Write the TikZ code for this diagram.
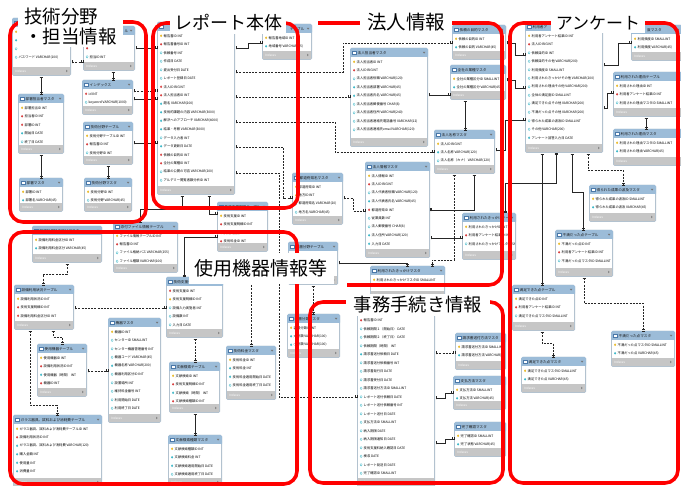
\documentclass[tikz,border=0pt]{standalone}
\usepackage{fontspec}
\newfontfamily\jp{Noto Sans CJK JP}
\usetikzlibrary{arrows.meta}
\definecolor{regred}{HTML}{FF0000}
\definecolor{tblhead}{HTML}{9CBCD8}
\definecolor{tblframe}{HTML}{B3C2CF}
\definecolor{tblfoot}{HTML}{C6C6C6}
\definecolor{tblicon}{HTML}{4A78A8}
\definecolor{keygold}{HTML}{E8B820}
\definecolor{fkred}{HTML}{D84040}
\definecolor{attcyan}{HTML}{3CB8C8}
\newcommand\rowfont{\jp\fontsize{3.3}{3.6}\selectfont}
\newcommand\hdrfont{\jp\fontsize{3.6}{4}\selectfont}
\newcommand\ftfont{\jp\fontsize{3}{3.4}\selectfont}
\tikzset{
 tblnode/.style={inner sep=0pt, outer sep=0pt, draw=none, anchor=north west},
 icK/.style={fill=keygold},
 icF/.style={fill=fkred},
 icA/.style={fill=white, draw=attcyan, line width=0.25pt},
 icC/.style={fill=attcyan},
 rowtxt/.style={anchor=west, inner sep=0pt, font=\rowfont, text=black},
 conn/.style={draw=black!85, line width=0.45pt, {Bar[width=3pt,sep=0.8pt]Bar[width=3pt]}-{Bar[width=3pt,sep=0.8pt]Bar[width=3pt]}},
 dconn/.style={conn, dash pattern=on 2pt off 1.2pt},
 regbox/.style={draw=regred, line width=3.6pt, rounded corners=13pt},
 lbl/.style={fill=white, inner sep=3pt, text=black},
}
\newcommand\ertbl[7]{%
\node[tblnode, minimum width={(#4-#2)*1pt}, minimum height={(#5-#3)*1pt}] (#1) at (#2,#3) {};
\fill[tblframe, rounded corners=1.5pt] (#2,#3) rectangle (#4,#5);
\fill[tblhead, rounded corners=1.5pt] (#2,#3) rectangle (#4,#3+10);
\fill[white] (#2+1.2,#3+9) rectangle (#4-1.2,#5-9);
\fill[tblfoot] (#2+1.2,#5-9) rectangle (#4-1.2,#5-1.2);
\filldraw[fill=white, draw=tblicon, line width=0.3pt] (#2+2,#3+2.8) rectangle (#2+6,#3+6.4);
\fill[black!55] (#4-5.2,#3+3.8) -- (#4-2.6,#3+3.8) -- (#4-3.9,#3+5.6) -- cycle;
\fill[black!45] (#4-5,#5-6.3) -- (#4-5,#5-3.7) -- (#4-3.2,#5-5) -- cycle;
\begin{scope}
\clip (#2,#3) rectangle (#4-6,#5);
\node[anchor=west, inner sep=0pt, font=\hdrfont, text=black!90] (#1-t) at (#2+7.5,#3+4.7) {#6};
\node[anchor=west, inner sep=0pt, font=\ftfont, text=white] (#1-x) at (#2+3,#5-5) {Indexes};
\end{scope}
\if\relax\detokenize{#7}\relax\else
\begin{scope}
\clip (#2,#3) rectangle (#4-1.2,#5);
\foreach \ty/\tx [count=\i] in {#7} {
 \pgfmathsetmacro\ry{#3+13.8+(\i-1)*8.5}
 \edef\icn{\noexpand\path[\ty]}
 \icn (#2+3,\ry) -- (#2+4.1,\ry-1.3) -- (#2+5.2,\ry) -- (#2+4.1,\ry+1.3) -- cycle;
 \node[rowtxt] (#1-r\i) at (#2+6.5,\ry) {\tx};
}
\end{scope}
\fi
}
\begin{document}
\begin{tikzpicture}[x=1pt,y=-1pt]
\fill[white] (0,0) rectangle (681,486);
\useasboundingbox (0,0) rectangle (681,486);

% ---------- 技術分野・担当情報
\ertbl{tanto}{12}{18}{71}{76}{}{icK/, icC/, icA/, icA/パスワード VARCHAR(100)}
\ertbl{tantot}{83}{26}{135}{71}{}{icK/, icF/, icA/担当ID INT}
\node[anchor=west, inner sep=0pt, font=\hdrfont, text=black!90] (tantot-t2) at (124.5,30.7) {ル};
\ertbl{idx}{82}{80}{133}{115}{インデックス}{icF/id INT, icA/keyword VARCHAR(1000)}
\ertbl{gtb}{83}{122}{133}{165}{技術分野テーブル}{icK/技術分野テーブルID INT, icF/報告書ID INT, icA/技術分野ID INT}
\ertbl{bsm}{18}{94}{64}{154}{部署担当者マスタ}{icK/部署担当ID INT, icF/担当者ID INT, icF/部署ID INT, icC/開始日 DATE, icA/終了日 DATE}
\ertbl{busho}{19}{178}{63}{212}{部署マスタ}{icK/部署ID INT, icC/部署名 VARCHAR(45)}
\ertbl{gmst}{84}{178}{132}{212}{技術分野マスタ}{icK/技術分野ID INT, icA/技術分野 VARCHAR(45)}

% ---------- レポート本体
\ertbl{rep}{157}{22}{235}{195}{}{icK/報告書ID INT, icF/報告書番号ID INT, icA/依頼番号 INT, icA/作成日 DATE, icA/提出受付日 DATE, icA/レポート登録日 DATE, icF/法人ID BIGINT, icF/法人担当者ID INT, icC/題名 VARCHAR(200), icC/技術的課題の内容 VARCHAR(3000), icC/解決へのアプローチ VARCHAR(4000), icC/結果・考察 VARCHAR(3000), icA/データ入力者 INT, icC/データ更新日 DATE, icF/依頼の目的ID INT, icF/全社の業種ID INT, icA/結果の公開の可否 VARCHAR(200), icA/アルデミー閲覧者数分析ID INT}
\ertbl{chiki}{262}{24}{312}{60}{}{icK/報告書地域ID INT, icC/地域番号 VARCHAR(45)}
\node[anchor=west, inner sep=0pt, font=\hdrfont, text=black!90] (chiki-t2) at (290,28.7) {テーブル};

% ---------- 法人情報
\ertbl{tantou}{350}{48}{428}{147}{法人担当者マスタ}{icK/法人担当者ID INT, icF/法人ID BIGINT, icA/法人担当者役職 VARCHAR(120), icC/法人担当者部署 VARCHAR(45), icC/法人担当者氏名 VARCHAR(45), icA/法人担当者郵便番号 CHAR(8), icA/法人担当者住所 VARCHAR(240), icA/法人担当者連絡先電話番号 VARCHAR(12), icA/法人担当者連絡先email VARCHAR(120)}
\ertbl{irai}{452}{25}{506}{60}{依頼の目的マスタ}{icK/依頼の目的ID INT, icC/依頼の目的 VARCHAR(45)}
\ertbl{gyoshu}{450}{65}{506}{100}{全社の業種マスタ}{icK/全社の業種区分ID SMALLINT, icC/全社の業種区分 VARCHAR(45)}
\ertbl{meisho}{434}{130}{495}{174}{法人名称マスタ}{icK/法人ID BIGINT, icC/法人名称 VARCHAR(120), icA/法人名称（カナ） VARCHAR(120)}
\ertbl{hjouhou}{365}{162}{430}{258}{法人情報マスタ}{icK/法人情報ID INT, icF/法人ID BIGINT, icA/法人代表者役職 VARCHAR(120), icC/法人代表者氏名 VARCHAR(45), icF/都道府県ID INT, icA/従業員数 INT, icA/法人郵便番号 CHAR(8), icC/法人住所 VARCHAR(120), icC/入力日 DATE}
\ertbl{ken}{292}{173}{343}{225}{都道府県名マスタ}{icK/都道府県ID INT, icK/地方ID INT, icC/都道府県名 VARCHAR(20), icA/地方名 VARCHAR(45)}
\ertbl{kikkaket}{462}{213}{516}{260}{利用されたきっかけテーブル}{icK/利用されたきっかけID INT, icF/利用者アンケート結果ID INT, icA/利用されたきっかけマスタID SMALLINT}
\ertbl{kikkakem}{370}{266}{445}{300}{利用されたきっかけマスタ}{icK/利用されたきっかけマスタID SMALLINT}
\ertbl{bunya}{288}{242}{338}{285}{装置分野テーブル}{}
\ertbl{bunrui}{287}{314}{340}{358}{装置分類マスタ}{icK/装置分類ID INT, icC/大分類 VARCHAR(100), icC/小分類 VARCHAR(100)}

% ---------- 使用機器情報等
\ertbl{ryokinkubun}{32}{226}{102}{263}{設備利用料金区分マスタ}{icK/設備利用料金区分ID INT, icC/設備利用料金区分 VARCHAR(45)}
\ertbl{file}{113}{222}{178}{273}{添付ファイル情報テーブル}{icK/ファイル情報テーブルID INT, icF/報告書ID INT, icA/ファイル格納パス VARCHAR(255), icA/ファイル種類 VARCHAR(100)}
\ertbl{gmeisai}{217}{202}{268}{252}{技術支援明細テーブル}{icK/技術支援ID INT, icF/技術支援明細ID INT, icA/技術支援数 INT, icF/技術料金ID INT}
\ertbl{shien}{166}{277}{223}{338}{技術支援テーブル}{icF/技術支援ID INT, icK/技術支援明細ID INT, icA/設備入力実施者 INT, icA/設備数 INT, icA/入力日 DATE}
\ertbl{setsubi}{14}{285}{74}{330}{設備利用状況テーブル}{icK/設備利用状況ID INT, icF/技術支援明細ID INT, icF/設備利用料金区分ID INT}
\ertbl{shiyou}{37}{344}{87}{397}{使用機器テーブル}{icK/使用機器ID INT, icF/設備利用状況ID INT, icC/使用機器（時間） INT, icF/機器ID INT}
\ertbl{kiki}{108}{318}{161}{423}{機器マスタ}{icK/機器ID INT, icA/センターID SMALLINT, icA/センター機器管理番号 INT, icA/機器コード VARCHAR(45), icC/機器名称 VARCHAR(200), icA/機器利用区分ID INT, icA/設置場所 INT, icA/維持料金番号 INT, icA/利用開始日 DATE, icA/利用終了日 DATE}
\ertbl{bunken}{169}{362}{220}{413}{文献検索テーブル}{icK/文献検索ID INT, icF/技術支援明細ID INT, icC/文献検索（時間） INT, icF/文献検索種類ID INT}
\ertbl{bunkenm}{168}{435}{222}{487}{文献検索種類マスタ}{icK/文献検索種類ID INT, icC/文献検索料金 INT, icC/文献検索適用開始日 DATE, icA/文献検索適用終了日 DATE}
\ertbl{ryokin}{226}{346}{276}{400}{技術料金マスタ}{icK/技術料金ID INT, icC/技術料金 INT, icC/技術料金適用開始日 DATE, icA/技術料金適用終了日 DATE}
\ertbl{glass}{13}{415}{102}{487}{ガラス器具、試料および消耗費テーブル}{icK/ガラス器具、試料および消耗費テーブルID INT, icF/設備利用状況ID INT, icC/ガラス器具、試料および消耗費 VARCHAR(120), icC/購入金額 INT, icC/使用量 INT, icC/消費量 INT}

% ---------- 事務手続き情報
\ertbl{jimu}{357}{298}{435}{487}{}{icK/, icF/報告書ID INT, icA/依頼期間１（開始日） DATE, icA/依頼期間２（終了日） DATE, icA/依頼期間（時間） INT, icC/請求書送付依頼日 DATE, icA/請求書送付依頼番号 INT, icA/請求書発行日 DATE, icA/請求書受付日 DATE, icA/請求書送付方法ID SMALLINT, icA/レポート送付依頼日 DATE, icA/レポート送付依頼番号 INT, icA/レポート送付日 DATE, icA/支払方法ID SMALLINT, icA/納入期限 DATE, icA/納入期限通知日 DATE, icA/技術支援料納入確認日 DATE, icA/検収 DATE, icA/レポート発送日 DATE, icA/完了確認ID SMALLINT}
\ertbl{seikyu}{455}{333}{506}{370}{請求書送付方法マスタ}{icK/請求書送付方法ID SMALLINT, icC/請求書送付方法 VARCHAR(45)}
\ertbl{shiharai}{453}{376}{506}{410}{支払方法マスタ}{icK/支払方法ID SMALLINT, icC/支払方法 VARCHAR(45)}
\ertbl{kanryo}{454}{422}{506}{457}{完了確認マスタ}{icK/完了確認ID SMALLINT, icC/完了状態 VARCHAR(45)}

% ---------- アンケート
\ertbl{anq}{525}{22}{603}{153}{利用者ア}{icK/利用者アンケート結果ID INT, icF/法人ID BIGINT, icA/依頼目的ID INT, icA/依頼目的その他 VARCHAR(200), icA/利用頻度ID SMALLINT, icA/利用されたきっかけその他 VARCHAR(200), icA/利用された理由その他 VARCHAR(200), icA/全体の満足度ID SMALLINT, icA/満足できた点その他 VARCHAR(200), icA/不満だった点その他 VARCHAR(200), icA/得られた成果の波及ID SMALLINT, icA/その他 VARCHAR(200), icC/アンケート回答入力日 DATE}
\ertbl{hindo}{631}{25}{682}{61}{}{icK/利用頻度ID SMALLINT, icC/利用頻度 VARCHAR(45)}
\ertbl{riyut}{613}{72}{682}{117}{利用された理由テーブル}{icK/利用された理由ID INT, icF/利用者アンケート結果ID INT, icA/利用された理由マスタID SMALLINT}
\ertbl{riyum}{613}{129}{682}{166}{利用された理由マスタ}{icK/利用された理由マスタID SMALLINT, icC/利用された理由 VARCHAR(45)}
\ertbl{seika}{589}{185}{656}{222}{得られた成果の波及マスタ}{icK/得られた成果の波及ID SMALLINT, icC/得られた成果の波及 VARCHAR(45)}
\ertbl{fumant}{555}{230}{613}{277}{不満だった点テーブル}{icK/不満だった点ID INT, icF/利用者アンケート結果ID INT, icA/不満だった点マスタID SMALLINT}
\ertbl{manzokut}{512}{285}{575}{331}{満足できた点テーブル}{icK/満足できた点ID INT, icF/利用者アンケート結果ID INT, icA/満足できた点マスタID SMALLINT}
\ertbl{manzokum}{521}{357}{586}{393}{満足できた点マスタ}{icK/満足できた点マスタID SMALLINT, icC/満足できた点 VARCHAR(45)}
\ertbl{fumanm}{611}{331}{675}{367}{不満だった点マスタ}{icK/不満だった点マスタID SMALLINT, icC/不満だった点 VARCHAR(45)}
\node[anchor=west, inner sep=0pt, font=\hdrfont, text=black!90] (hindo-t2) at (647,29.7) {度マスタ};

% ---------- connectors
\draw[dconn] (tanto.east |- 0,62) -- (tantot.west |- 0,62);
\draw[conn] (tanto.south -| 41,0) -- (bsm.north -| 41,0);
\draw[conn] (bsm.south -| 41,0) -- (busho.north -| 41,0);
\draw[conn] (gtb.south -| 108,0) -- (gmst.north -| 108,0);
\draw[conn] (tantot.south -| 113,0) -- (idx.north -| 113,0);
\draw[conn] (tantot.east |- 0,48) -- (rep.west |- 0,48);
\draw[dconn] (idx.east |- 0,91) -- (rep.west |- 0,91);
\draw[conn] (idx.east |- 0,99) -- (rep.west |- 0,99);
\draw[conn] (gtb.east |- 0,143) -- (rep.west |- 0,143);

\draw[conn] (rep.east |- 0,48) -- (248,48) -- (248,43) -- (chiki.west |- 0,43);
\draw[dconn] (rep.east |- 0,72) -- (343,72) -- (343,43) -- (irai.west |- 0,43);
\draw[dconn] (rep.east |- 0,97) -- (tantou.west |- 0,97);
\draw[dconn] (rep.east |- 0,122) -- (335,122) -- (335,152) -- (meisho.west |- 0,152);
\draw[dconn] (rep.east |- 0,147) -- (283,147) -- (283,198) -- (ken.west |- 0,198);
\draw[dconn] (rep.east |- 0,173) -- (279,173) -- (279,397) -- (jimu.west |- 0,397);
\draw[conn] (rep.south -| 182,0) -- (182,209) -- (140,209) -- (file.north -| 140,0);
\draw[conn] (rep.south -| 209,0) -- (209,214) -- (gmeisai.west |- 0,214);
\draw[conn] (shien.north -| 184,0) -- (184,237) -- (gmeisai.west |- 0,237);
\draw[dconn] (gmeisai.south -| 251,0) -- (ryokin.north -| 251,0);

\draw[conn] (tantou.east |- 0,95) -- (gyoshu.west |- 0,95);
\draw[conn] (gyoshu.south -| 465,0) -- (meisho.north -| 465,0);
\draw[conn] (meisho.south -| 474,0) -- (474,210) -- (hjouhou.east |- 0,210);
\draw[dconn] (ken.east |- 0,198) -- (353,198) -- (353,211) -- (hjouhou.west |- 0,211);
\draw[conn] (hjouhou.east |- 0,238) -- (kikkaket.west |- 0,238);
\draw[dconn] (meisho.south -| 454,0) -- (454,260) -- (432,260) -- (kikkakem.north -| 432,0);
\draw[conn] (bunya.east |- 0,263) -- (407,263) -- (kikkakem.north -| 407,0);
\draw[dconn] (bunya.south -| 313,0) -- (bunrui.north -| 313,0);

\draw[conn] (irai.east |- 0,43) -- (515,43) -- (515,55) -- (anq.west |- 0,55);
\draw[conn] (gyoshu.east |- 0,80) -- (515,80) -- (515,88) -- (anq.west |- 0,88);
\draw[conn] (meisho.east |- 0,150) -- (505,150) -- (505,120) -- (anq.west |- 0,120);
\draw[conn] (anq.east |- 0,65) -- (618,65) -- (618,43) -- (hindo.west |- 0,43);
\draw[conn] (anq.east |- 0,108) -- (607,108) -- (607,93) -- (riyut.west |- 0,93);
\draw[conn] (riyut.south -| 646,0) -- (riyum.north -| 646,0);
\draw[dconn] (anq.south -| 588,0) -- (588,170) -- (623,170) -- (seika.north -| 623,0);
\draw[conn] (anq.south -| 572,0) -- (572,192) -- (583,192) -- (fumant.north -| 583,0);
\draw[conn] (anq.south -| 542,0) -- (manzokut.north -| 542,0);
\draw[conn] (kikkaket.north -| 505,0) -- (505,183) -- (556,183) -- (anq.south -| 556,0);
\draw[dconn] (manzokut.south -| 542,0) -- (542,343) -- (553,343) -- (manzokum.north -| 553,0);
\draw[dconn] (fumant.south -| 584,0) -- (584,303) -- (643,303) -- (fumanm.north -| 643,0);

\draw[dconn] (ryokinkubun.south -| 67,0) -- (67,274) -- (43,274) -- (setsubi.north -| 43,0);
\draw[dconn] (setsubi.east |- 0,308) -- (shien.west |- 0,308);
\draw[dconn] (setsubi.south -| 53,0) -- (53,337) -- (62,337) -- (shiyou.north -| 62,0);
\draw[dconn] (setsubi.south -| 30,0) -- (30,405) -- (57,405) -- (glass.north -| 57,0);
\draw[dconn] (shiyou.east |- 0,371) -- (kiki.west |- 0,371);
\draw[dconn] (shien.south -| 195,0) -- (bunken.north -| 195,0);
\draw[conn] (bunken.south -| 195,0) -- (bunkenm.north -| 195,0);

\draw[dconn] (jimu.east |- 0,353) -- (seikyu.west |- 0,353);
\draw[conn] (jimu.east |- 0,398) -- (445,398) -- (445,393) -- (shiharai.west |- 0,393);
\draw[conn] (jimu.east |- 0,443) -- (445,443) -- (445,439) -- (kanryo.west |- 0,439);

% ---------- red group frames
\draw[regbox] (10,22) rectangle (146,222);
\draw[regbox] (153,23) rectangle (298,208);
\draw[regbox] (318,23) -- (502,23) -- (502,285) -- (347,285);
\draw[regbox] (510,23) rectangle (678,483);
\draw[regbox] (10,232) rectangle (297,484);
\draw[regbox] (310,302) rectangle (503,483);

% ---------- group labels
\node[lbl, anchor=north west, align=left, inner xsep=6pt, inner ysep=2pt, font={\jp\fontsize{18.5}{20}\selectfont}] (lab1) at (18,6) {技術分野\\・担当情報};
\node[lbl, inner xsep=4pt, font={\jp\fontsize{18}{20}\selectfont}] (lab2) at (228,23) {レポート本体};
\node[lbl, inner xsep=7pt, font={\jp\fontsize{19.5}{21}\selectfont}] (lab3) at (406,22.5) {法人情報};
\node[lbl, inner xsep=5pt, font={\jp\fontsize{17}{19}\selectfont}] (lab4) at (598,23) {アンケート};
\node[lbl, inner xsep=6pt, inner ysep=7pt, font={\jp\fontsize{19}{21}\selectfont}] (lab5) at (261,268.5) {使用機器情報等};
\node[lbl, inner xsep=8pt, font={\jp\fontsize{18.3}{20}\selectfont}] (lab6) at (418,305) {事務手続き情報};
\end{tikzpicture}
\end{document}
